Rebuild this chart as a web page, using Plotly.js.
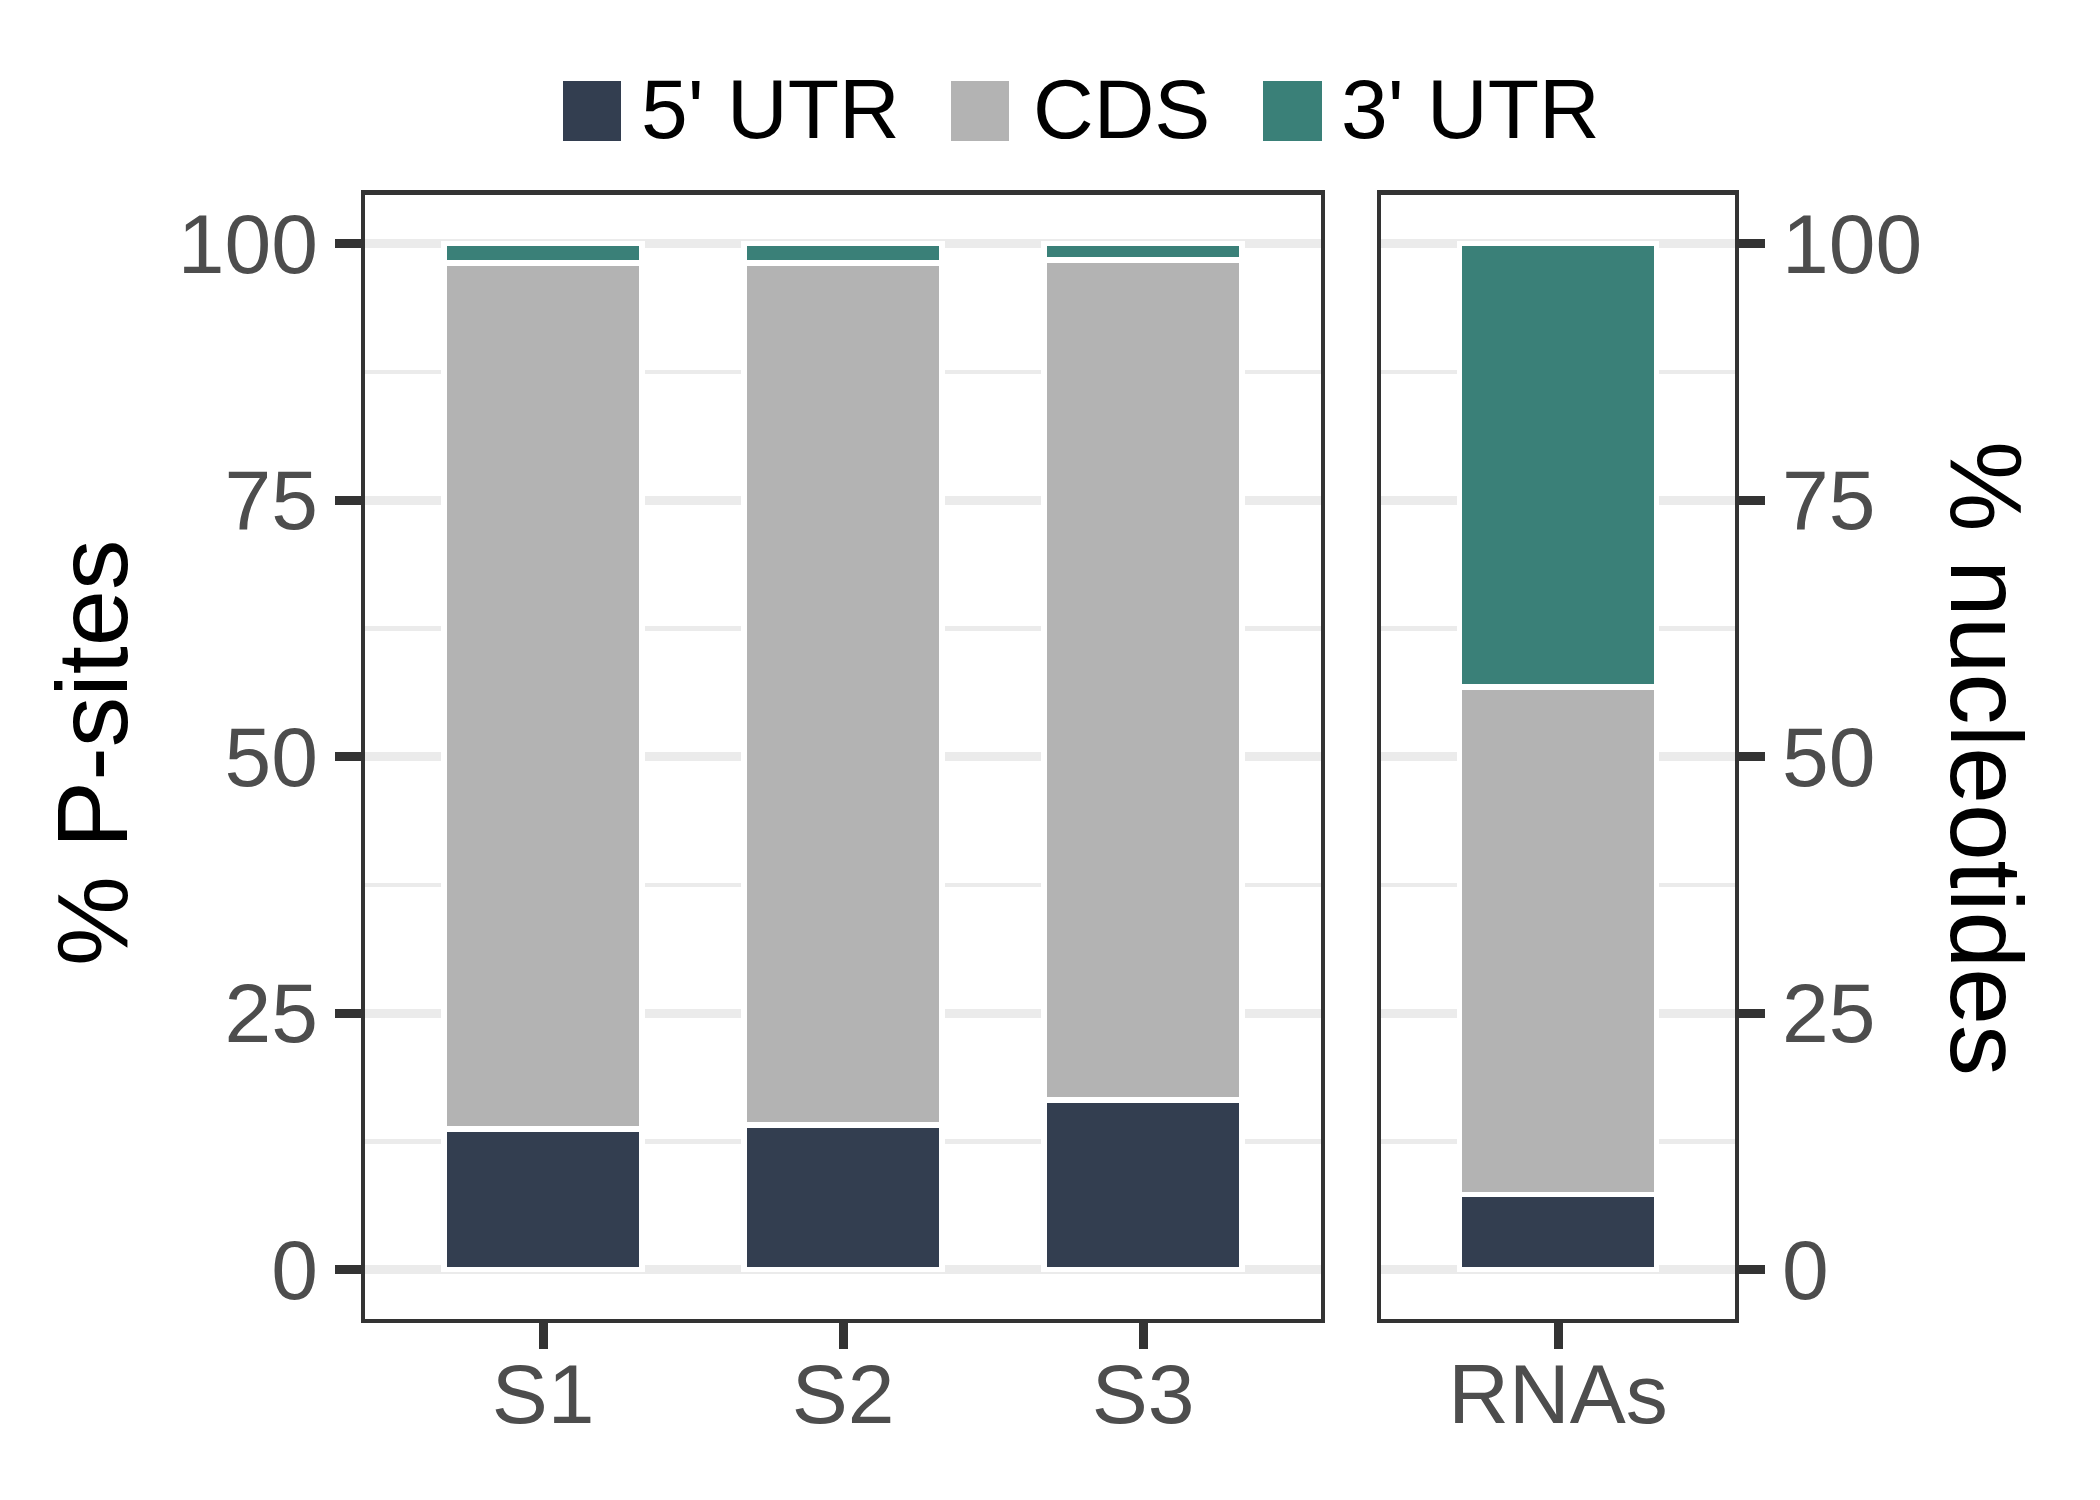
<!DOCTYPE html>
<html>
<head>
<meta charset="utf-8">
<script src="https://cdn.plot.ly/plotly-3.0.1.min.js"></script>
<style>html,body{margin:0;padding:0;background:#fff;}</style>
</head>
<body>
<div id="chart" style="width:2100px;height:1500px;"></div>
<script>
// ---- data ----
const samples = ["S1", "S2", "S3"];
const rnaCats = ["RNAs"];
const regionNames = ["5' UTR", "CDS", "3' UTR"];
const regionColors = ["#333E50", "#B3B3B3", "#3A8078"];
const psite5utr = [13.7, 14.1, 16.5];
const psiteCds  = [84.4, 84.0, 81.9];
const psite3utr = [1.9, 1.9, 1.6];
const nt5utr = [7.3];
const ntCds  = [49.45];
const nt3utr = [43.25];
const yTickVals = [0, 25, 50, 75, 100];
const yMinorVals = [12.5, 37.5, 62.5, 87.5];
const yTitleLeft = "% P-sites";
const yTitleRight = "% nucleotides";

// ---- traces ----
const W = 2100, H = 1500;
const font = "Liberation Sans, Arial, Helvetica, sans-serif";
const psiteSeries = [psite5utr, psiteCds, psite3utr];
const ntSeries = [nt5utr, ntCds, nt3utr];
const traces = [];
regionNames.forEach((nm, i) => {
  traces.push({
    type: "bar", x: samples, y: psiteSeries[i], name: nm,
    xaxis: "x", yaxis: "y", width: 0.66,
    marker: {color: regionColors[i], line: {color: "#FFFFFF", width: 5.5}},
    showlegend: false, hoverinfo: "skip"
  });
  traces.push({
    type: "bar", x: rnaCats, y: ntSeries[i], name: nm,
    xaxis: "x2", yaxis: "y2", width: 0.66,
    marker: {color: regionColors[i], line: {color: "#FFFFFF", width: 5.5}},
    showlegend: false, hoverinfo: "skip"
  });
});

// ---- axes ----
const LW = 4.5, half = LW / 2;
const pxPerY = 10.26, y0px = 1269.5;           // panel mapping
const yTopPx = 192.4 + half, yBotPx = 1320.8 - half;
const yRange = [(y0px - yBotPx) / pxPerY, (y0px - yTopPx) / pxPerY];
const yDom = [1 - yBotPx / H, 1 - yTopPx / H];
function xAx(x0, x1, nCat, anchor) {
  const ppu = (x1 - x0) / (nCat + 0.2);
  const d = half / ppu;
  return {
    domain: [(x0 + half) / W, (x1 - half) / W], range: [-0.6 + d, nCat - 0.4 - d],
    anchor: anchor, type: "category",
    showline: true, mirror: true, linecolor: "#333333", linewidth: LW,
    ticks: "outside", ticklen: 26, tickwidth: 9, tickcolor: "#333333",
    ticklabelstandoff: -27,
    tickfont: {family: font, size: 84, color: "#4D4D4D"},
    showgrid: false, zeroline: false, fixedrange: true
  };
}
function yAx(anchor, side) {
  return {
    domain: yDom, range: yRange, anchor: anchor, side: side,
    tickmode: "array", tickvals: yTickVals,
    showline: true, mirror: true, linecolor: "#333333", linewidth: LW,
    ticks: "outside", ticklen: 26, tickwidth: 9, tickcolor: "#333333",
    tickfont: {family: font, size: 84, color: "#4D4D4D"},
    showgrid: true, gridcolor: "#EBEBEB", gridwidth: 9,
    minor: {tickmode: "array", tickvals: yMinorVals, showgrid: true, gridcolor: "#EBEBEB", gridwidth: 4.5, ticks: ""},
    zeroline: false, fixedrange: true
  };
}

// ---- manual legend (large keys) ----
const legendKeys = [
  {x0: 563, x1: 621, tx: 639},
  {x0: 951, x1: 1009, tx: 1031},
  {x0: 1263, x1: 1322, tx: 1339}
];
const legY = 111;
const shapes = [];
const annotations = [];
regionNames.forEach((nm, i) => {
  const k = legendKeys[i];
  shapes.push({
    type: "rect", xref: "paper", yref: "paper",
    x0: k.x0 / W, x1: k.x1 / W, y0: 1 - (legY + 30) / H, y1: 1 - (legY - 30) / H,
    fillcolor: regionColors[i], line: {width: 0}
  });
  annotations.push({
    xref: "paper", yref: "paper", x: k.tx / W, y: 1 - (legY - 2) / H,
    xanchor: "left", yanchor: "middle", showarrow: false, text: nm,
    font: {family: font, size: 84, color: "#000000"}
  });
});
annotations.push({
  xref: "paper", yref: "paper", x: 92 / W, y: 1 - 753 / H,
  xanchor: "center", yanchor: "middle", showarrow: false, textangle: -90,
  text: yTitleLeft, font: {family: font, size: 101, color: "#000000"}
});
annotations.push({
  xref: "paper", yref: "paper", x: 1986 / W, y: 1 - 758 / H,
  xanchor: "center", yanchor: "middle", showarrow: false, textangle: 90,
  text: yTitleRight, font: {family: font, size: 102, color: "#000000"}
});

const layout = {
  width: W, height: H,
  margin: {l: 0, r: 0, t: 0, b: 0, pad: 0},
  paper_bgcolor: "#FFFFFF", plot_bgcolor: "#FFFFFF",
  barmode: "stack", bargap: 0,
  font: {family: font},
  showlegend: false,
  xaxis: xAx(363, 1323, 3, "y"),
  xaxis2: xAx(1379, 1737, 1, "y2"),
  yaxis: yAx("x", "left"),
  yaxis2: yAx("x2", "right"),
  shapes: shapes,
  annotations: annotations
};

Plotly.newPlot("chart", traces, layout, {staticPlot: true, displayModeBar: false});
</script>
</body>
</html>
